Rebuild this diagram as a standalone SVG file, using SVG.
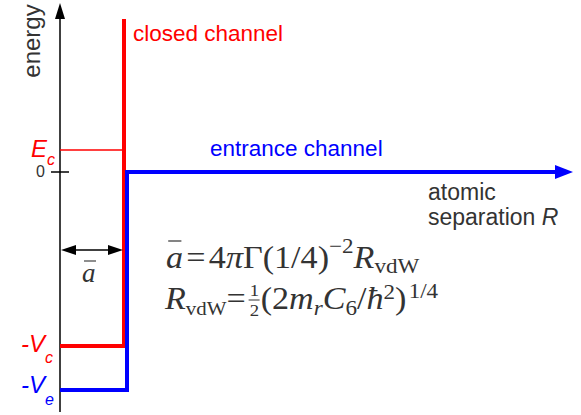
<svg xmlns="http://www.w3.org/2000/svg" width="581" height="415" viewBox="0 0 581 415">
<style>
.sans{font-family:"Liberation Sans",Arial,sans-serif}
.serif{font-family:"Liberation Serif","Times New Roman",serif;fill:#333}
.it{font-style:italic}
</style>
<rect width="581" height="415" fill="#fff"/>
<g id="connectors">
<line x1="60" y1="412" x2="60" y2="17" stroke="#000" stroke-width="1.5"/>
<path d="M55,19 L60,3 L65,19 z" fill="#000"/>
<line x1="51" y1="172" x2="69" y2="172" stroke="#000" stroke-width="1.5"/>
<line x1="60" y1="150" x2="124" y2="150" stroke="#f00" stroke-width="1.5"/>
<path d="M60,346 H124 V19" fill="none" stroke="#f00" stroke-width="4"/>
<path d="M60,390 H127 V172 H556" fill="none" stroke="#00f" stroke-width="4"/>
<path d="M555,165 L573,172 L555,179 z" fill="#00f"/>
<line x1="65" y1="250" x2="119" y2="250" stroke="#000" stroke-width="1.5"/>
<path d="M61,250 L76,245 L76,255 z" fill="#000"/>
<path d="M123,250 L108,245 L108,255 z" fill="#000"/>
</g>
<g id="labels">
<text class="sans" transform="translate(40,41) rotate(-90)" text-anchor="middle" font-size="24" fill="#333">energy</text>
<text class="sans" x="133" y="41" font-size="22.5" fill="#f00">closed channel</text>
<text class="sans" x="210" y="156" font-size="22.5" fill="#00f">entrance channel</text>
<text class="sans" x="428" y="200" font-size="23" fill="#333">atomic</text>
<text class="sans" x="428" y="225" font-size="23" fill="#333">separation <tspan class="it">R</tspan></text>
<text class="sans it" x="31" y="157" font-size="24" fill="#f00">E<tspan font-size="16" dy="8">c</tspan></text>
<text class="sans" x="36" y="177" font-size="16" fill="#333">0</text>
<text class="sans it" x="21" y="352" font-size="24" fill="#f00">-V<tspan font-size="16" dy="11">c</tspan></text>
<text class="sans it" x="21" y="393" font-size="24" fill="#00f">-V<tspan font-size="16" dy="12">e</tspan></text>
<text class="serif it" x="82" y="282" font-size="27">a</text>
<line x1="84" y1="261" x2="96" y2="261" stroke="#444" stroke-width="1.2"/>
</g>
<g id="formula">
<g transform="matrix(1.1,0,0,1,-16.6,0)">
<text class="serif" x="166" y="268" font-size="31"><tspan class="it">a</tspan><tspan dx="3">=</tspan><tspan dx="3">4</tspan><tspan class="it">π</tspan>Γ(1/4)<tspan font-size="21" dy="-15">−2</tspan><tspan dy="15" class="it">R</tspan><tspan font-size="21" dy="5">vdW</tspan></text>
<line x1="168" y1="241" x2="180" y2="241" stroke="#333" stroke-width="1.2"/>
</g>
<g transform="matrix(1.1,0,0,1,-16.5,0)">
<text class="serif" x="165" y="309" font-size="31"><tspan class="it">R</tspan><tspan font-size="19" dy="6">vdW</tspan><tspan dy="-6">=</tspan></text>
<text class="serif" x="242" y="296" font-size="17">1</text>
<line x1="241" y1="300" x2="251" y2="300" stroke="#333" stroke-width="1"/>
<text class="serif" x="242" y="316" font-size="17">2</text>
<text class="serif" x="252" y="309" font-size="31">(2<tspan class="it">m</tspan><tspan font-size="21" dy="6" class="it">r</tspan><tspan dy="-6" class="it">C</tspan><tspan font-size="21" dy="6">6</tspan><tspan dy="-6">/</tspan><tspan class="it">ħ</tspan><tspan font-size="21" dy="-10">2</tspan><tspan dy="10">)</tspan><tspan font-size="21" dy="-11" dx="2">1/4</tspan></text>
</g>
</g>
</svg>
